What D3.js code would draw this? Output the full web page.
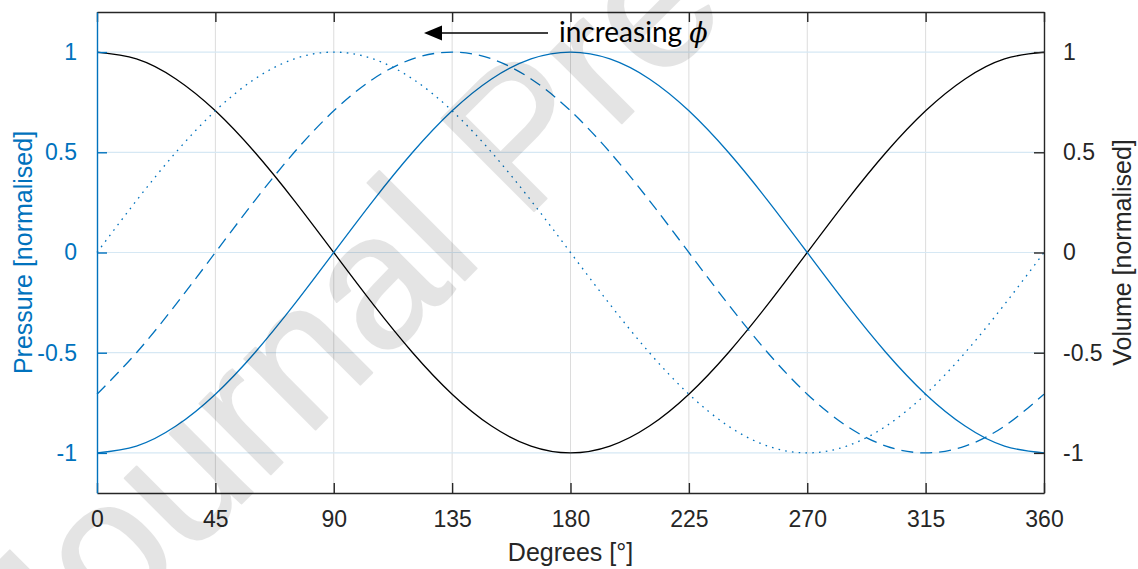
<!DOCTYPE html>
<html>
<head>
<meta charset="utf-8">
<script src="https://cdn.jsdelivr.net/npm/d3@7"></script>
<style>
  body { margin: 0; background: #fff; }
  svg { display: block; }
</style>
</head>
<body>
<svg width="1138" height="569"></svg>
<script>
// crank angle samples, degrees
var degrees = [0, 15, 30, 45, 60, 75, 90, 105, 120, 135, 150, 165, 180,
    195, 210, 225, 240, 255, 270, 285, 300, 315, 330, 345, 360];

// volume (black, right axis)
var volume = [1, 0.966, 0.866, 0.707, 0.5, 0.259, 0, -0.259, -0.5, -0.707, -0.866, -0.966, -1,
    -0.966, -0.866, -0.707, -0.5, -0.259, 0, 0.259, 0.5, 0.707, 0.866, 0.966, 1];

// pressure curves (blue, left axis)
var pressureSolid = [-1, -0.966, -0.866, -0.707, -0.5, -0.259, 0, 0.259, 0.5, 0.707, 0.866, 0.966, 1,
    0.966, 0.866, 0.707, 0.5, 0.259, 0, -0.259, -0.5, -0.707, -0.866, -0.966, -1];
var pressureDashed = [-0.707, -0.5, -0.259, 0, 0.259, 0.5, 0.707, 0.866, 0.966, 1, 0.966, 0.866, 0.707,
    0.5, 0.259, 0, -0.259, -0.5, -0.707, -0.866, -0.966, -1, -0.966, -0.866, -0.707];
var pressureDotted = [0, 0.259, 0.5, 0.707, 0.866, 0.966, 1, 0.966, 0.866, 0.707, 0.5, 0.259, 0,
    -0.259, -0.5, -0.707, -0.866, -0.966, -1, -0.966, -0.866, -0.707, -0.5, -0.259, 0];

var xTicks = [0, 45, 90, 135, 180, 225, 270, 315, 360];
var yTicks = [-1, -0.5, 0, 0.5, 1];

var blue = "#0072BD",
    dark = "#262626";

var svg = d3.select("svg"),
    width = +svg.attr("width"),
    height = +svg.attr("height");

var plotLeft = 97, plotRight = 1044, plotTop = 12, plotBottom = 493;

var x = d3.scaleLinear().domain([0, 360]).range([plotLeft, plotRight]);
var y = d3.scaleLinear().domain([-1.2, 1.2]).range([plotBottom, plotTop]);

// grid
svg.append("g")
    .selectAll("line")
    .data(xTicks.slice(1, -1))
    .enter().append("line")
    .attr("x1", function (d) { return x(d); })
    .attr("x2", function (d) { return x(d); })
    .attr("y1", plotTop)
    .attr("y2", plotBottom)
    .attr("stroke", "#dcdcdc")
    .attr("stroke-width", 1);

svg.append("g")
    .selectAll("line")
    .data(yTicks)
    .enter().append("line")
    .attr("x1", plotLeft)
    .attr("x2", plotRight)
    .attr("y1", function (d) { return y(d); })
    .attr("y2", function (d) { return y(d); })
    .attr("stroke", "#d6e8f4")
    .attr("stroke-width", 1.2);

// curves
function lineFor(values) {
    return d3.line()
        .x(function (d, i) { return x(degrees[i]); })
        .y(function (d) { return y(d); })
        .curve(d3.curveNatural)(values);
}

var series = [
    { values: volume, color: "#000", dash: null },
    { values: pressureSolid, color: blue, dash: null },
    { values: pressureDashed, color: blue, dash: "12,7" },
    { values: pressureDotted, color: blue, dash: "1.6,5.2" }
];

svg.append("g")
    .selectAll("path")
    .data(series)
    .enter().append("path")
    .attr("d", function (d) { return lineFor(d.values); })
    .attr("fill", "none")
    .attr("stroke", function (d) { return d.color; })
    .attr("stroke-width", 1.3)
    .attr("stroke-dasharray", function (d) { return d.dash; });

// axes
var fmt = function (d) { return d === 0 ? "0" : String(d); };
var xBottom = d3.axisBottom(x).tickValues(xTicks).tickSizeInner(-10).tickSizeOuter(0).tickPadding(18);
var xTop = d3.axisTop(x).tickValues(xTicks).tickSizeInner(-10).tickSizeOuter(0).tickFormat("");
var yLeft = d3.axisLeft(y).tickValues(yTicks).tickSizeInner(-10).tickSizeOuter(0).tickPadding(20).tickFormat(fmt);
var yRight = d3.axisRight(y).tickValues(yTicks).tickSizeInner(-10).tickSizeOuter(0).tickPadding(19).tickFormat(fmt);

function styleAxis(g, color) {
    g.select(".domain").attr("stroke", color).attr("stroke-width", 1.4);
    g.selectAll(".tick line").attr("stroke", color).attr("stroke-width", 1.4);
    g.selectAll(".tick text")
        .attr("fill", color)
        .style("font-family", "'Liberation Sans', Arial, sans-serif")
        .style("font-size", "23px");
}

svg.append("g").attr("transform", "translate(0," + plotBottom + ")").call(xBottom)
    .call(function (g) { styleAxis(g, dark); });
svg.append("g").attr("transform", "translate(0," + plotTop + ")").call(xTop)
    .call(function (g) { styleAxis(g, dark); });
svg.append("g").attr("transform", "translate(" + plotLeft + ",0)").call(yLeft)
    .call(function (g) { styleAxis(g, blue); });
svg.append("g").attr("transform", "translate(" + plotRight + ",0)").call(yRight)
    .call(function (g) { styleAxis(g, dark); });

// axis titles
var labelFont = "'Liberation Sans', Arial, sans-serif";
var midY = (plotTop + plotBottom) / 2;

svg.append("text")
    .attr("x", (plotLeft + plotRight) / 2)
    .attr("y", 561)
    .attr("text-anchor", "middle")
    .attr("fill", dark)
    .style("font-family", labelFont)
    .style("font-size", "25px")
    .text("Degrees [°]");

svg.append("text")
    .attr("transform", "translate(32," + midY + ") rotate(-90)")
    .attr("text-anchor", "middle")
    .attr("fill", blue)
    .style("font-family", labelFont)
    .style("font-size", "25px")
    .text("Pressure [normalised]");

svg.append("text")
    .attr("transform", "translate(1131," + midY + ") rotate(-90)")
    .attr("text-anchor", "middle")
    .attr("fill", dark)
    .style("font-family", labelFont)
    .style("font-size", "25px")
    .text("Volume [normalised]");

// annotation arrow
svg.append("line")
    .attr("x1", 440).attr("x2", 548)
    .attr("y1", 33).attr("y2", 33)
    .attr("stroke", "#000")
    .attr("stroke-width", 1.5);
svg.append("path")
    .attr("d", "M424,33 L442,25.5 L442,40.5 Z")
    .attr("fill", "#000");

var note = svg.append("text")
    .attr("x", 559)
    .attr("y", 42)
    .attr("fill", "#000")
    .style("font-family", "Lato, 'Open Sans', sans-serif")
    .style("font-size", "28px");
note.append("tspan").text("increasing ");
note.append("tspan")
    .style("font-family", "'DejaVu Serif', serif")
    .style("font-style", "italic")
    .style("font-size", "27px")
    .text("ϕ");

// watermark
svg.append("g")
    .attr("opacity", 0.1)
    .style("pointer-events", "none")
    .append("text")
    .attr("transform", "translate(45,700) rotate(-45)")
    .attr("fill", "#000")
    .attr("stroke", "#000")
    .attr("stroke-width", 2)
    .attr("stroke-linejoin", "round")
    .style("font-family", "'Liberation Sans', Arial, sans-serif")
    .style("font-size", "190px")
    .text("Journal Pre-proof");
</script>
</body>
</html>
